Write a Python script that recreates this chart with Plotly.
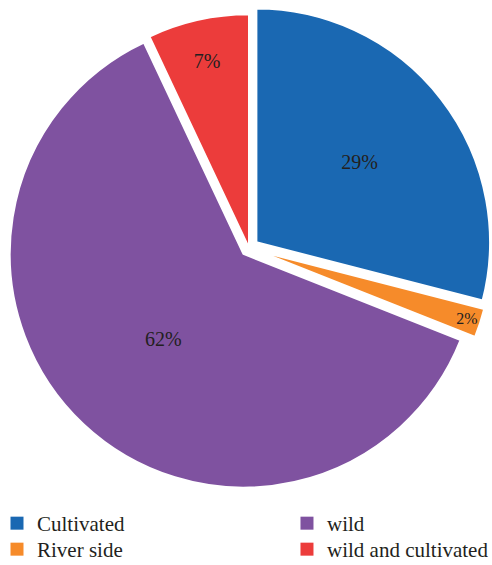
import plotly.graph_objects as go

categories = ["Cultivated", "River side", "wild", "wild and cultivated"]
values = [29, 2, 62, 7]
colors = ["#1a68b2", "#f68b2a", "#7f52a0", "#ec3c3b"]
pulls = [0.04, 0.04, 0.035, 0.0]
# legend slot for each category: (legend id, column x, row y)
legend_slots = {
    "Cultivated": ("legend", -0.0061, 0.1097),
    "River side": ("legend2", -0.0061, 0.0637),
    "wild": ("legend3", 0.5833, 0.1097),
    "wild and cultivated": ("legend4", 0.5833, 0.0637),
}

FONT = "Liberation Serif"
TEXT_COLOR = "#231f20"

fig = go.Figure()
fig.add_trace(go.Pie(
    labels=categories,
    values=values,
    sort=False,
    direction="clockwise",
    rotation=0,
    pull=pulls,
    marker=dict(colors=colors, line=dict(color="white", width=2)),
    textinfo="percent",
    texttemplate="%{percent:.0%}",
    textposition="inside",
    insidetextorientation="horizontal",
    textfont=dict(family=FONT, size=20, color=TEXT_COLOR),
    showlegend=False,
    hoverinfo="label+percent",
    domain=dict(x=[0.0122, 1.0], y=[0.1310, 0.9912]),
))

layout_legends = {}
for name in categories:
    leg, lx, ly = legend_slots[name]
    i = categories.index(name)
    fig.add_trace(go.Scatter(
        x=[None], y=[None], mode="markers", name=name,
        marker=dict(symbol="square", size=13, color=colors[i]),
        showlegend=True, hoverinfo="skip", legend=leg,
    ))
    layout_legends[leg] = dict(
        orientation="v", x=lx, xanchor="left", y=ly, yanchor="top",
        bgcolor="rgba(0,0,0,0)",
        font=dict(family=FONT, size=21, color=TEXT_COLOR),
    )

fig.update_layout(
    width=492, height=565,
    margin=dict(l=0, r=0, t=0, b=0, autoexpand=False),
    paper_bgcolor="white",
    plot_bgcolor="white",
    xaxis=dict(visible=False),
    yaxis=dict(visible=False),
    **layout_legends,
)

fig.write_html(
    "out.html",
    config={"displayModeBar": False},
    post_script="document.body.style.margin='0';document.body.style.padding='0';",
)
